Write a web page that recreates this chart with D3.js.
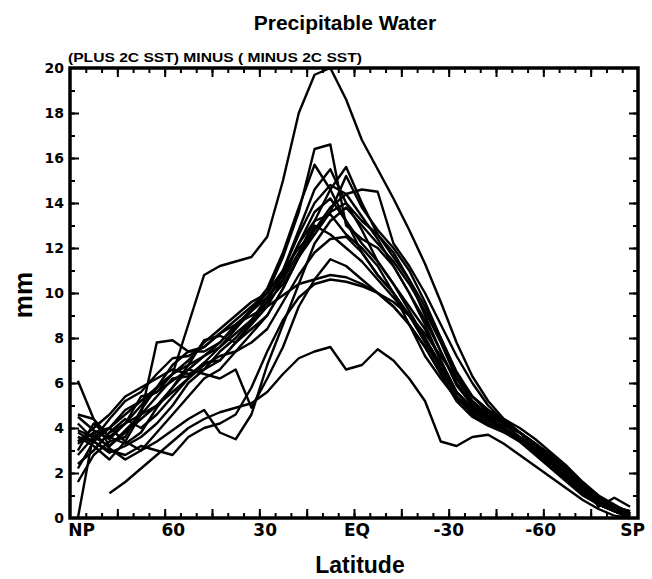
<!DOCTYPE html>
<html>
<head>
<meta charset="utf-8">
<script src="https://cdn.jsdelivr.net/npm/d3@7/dist/d3.min.js"></script>
<style>
	body { margin: 0; background: #fff; }
	svg { display: block; }
	.frame { fill: none; stroke: #000; stroke-width: 3.5; }
	.ticks path.domain { display: none; }
	.ticks line { stroke: #000; stroke-width: 2; }
	.labels path.domain { display: none; }
	.labels line { display: none; }
	.series { fill: none; stroke: #000; stroke-width: 2.4; stroke-linejoin: round; }
	text { font-weight: bold; fill: #000; }
</style>
</head>
<body>
<svg id="chart" width="652" height="579"></svg>
<script>
// latitude of each grid point, north pole to south pole
const lats = [87.5, 82.5, 77.5, 72.5, 67.5, 62.5, 57.5, 52.5, 47.5, 42.5, 37.5, 32.5,
	27.5, 22.5, 17.5, 12.5, 7.5, 2.5, -2.5, -7.5, -12.5, -17.5, -22.5, -27.5,
	-32.5, -37.5, -42.5, -47.5, -52.5, -57.5, -62.5, -67.5, -72.5, -77.5, -82.5, -87.5]

const latTicks = [90, 60, 30, 0, -30, -60, -90]
const latLabels = ['NP', '60', '30', 'EQ', '-30', '-60', 'SP']
const mmTicks = [0, 2, 4, 6, 8, 10, 12, 14, 16, 18, 20]

// precipitable water difference (mm), one array per model
const modelA = [3.6, 3.4, 4.0, 4.6, 5.2, 5.8, 6.4, 8.6, 10.8, 11.2, 11.4, 11.6, 12.5, 15.0, 18.0, 19.7, 20.0, 18.6, 16.8, 15.5, 14.2, 12.8, 11.3, 9.6, 7.8, 6.3, 5.2, 4.4, 3.8, 3.2, 2.6, 2.0, 1.3, 0.7, 0.3, 0.1]
const modelB = [null, null, 1.1, 1.6, 2.2, 2.8, 3.4, 4.0, 4.4, 4.7, 4.9, 5.1, 5.6, 6.4, 7.1, 7.4, 7.6, 6.6, 6.8, 7.5, 7.0, 6.2, 5.2, 3.4, 3.2, 3.6, 3.7, 3.3, 2.8, 2.3, 1.8, 1.3, 0.8, 0.4, 0.1, 0.0]
const modelC = [2.8, 3.6, 3.2, 3.9, 4.6, 5.4, 6.2, 6.3, 6.9, 7.6, 8.4, 9.2, 10.0, 11.6, 13.6, 16.4, 16.6, 13.0, 12.4, 12.0, 11.2, 10.0, 8.6, 7.0, 5.6, 4.9, 4.4, 3.9, 3.4, 2.8, 2.2, 1.6, 1.0, 0.6, 0.3, 0.2]
const modelD = [4.5, 3.9, 3.5, 4.2, 5.4, 5.6, 6.1, 6.6, 7.2, 7.8, 8.5, 9.3, 10.2, 11.8, 13.8, 15.7, 14.6, 13.2, 12.2, 11.4, 10.4, 9.2, 8.0, 6.6, 5.4, 4.8, 4.4, 4.0, 3.5, 3.0, 2.4, 1.8, 1.2, 0.7, 0.4, 0.2]
const modelE = [3.0, 4.2, 3.6, 3.3, 3.8, 4.9, 5.8, 6.8, 7.9, 8.1, 7.8, 8.7, 9.6, 11.0, 12.8, 14.6, 15.5, 14.0, 13.2, 12.6, 11.8, 10.6, 9.0, 7.4, 5.9, 5.0, 4.5, 4.0, 3.5, 3.0, 2.4, 1.8, 1.2, 0.7, 0.4, 0.1]
const modelF = [3.3, 3.8, 3.1, 2.6, 3.0, 3.8, 4.6, 5.4, 6.2, 6.6, 7.4, 8.2, 9.0, 10.2, 11.6, 12.6, 13.6, 15.2, 13.8, 12.8, 12.0, 11.0, 9.6, 8.0, 6.4, 5.4, 4.7, 4.2, 3.6, 3.0, 2.4, 1.8, 1.1, 0.6, 0.3, 0.0]
const modelG = [4.2, 3.5, 4.4, 5.2, 5.6, 6.4, 7.1, 7.2, 7.6, 8.2, 8.8, 9.4, 10.0, 11.0, 12.0, 12.8, 13.8, 14.4, 14.6, 14.5, 12.2, 11.2, 10.0, 8.6, 7.2, 6.0, 5.0, 4.3, 3.8, 3.2, 2.6, 2.0, 1.4, 0.9, 0.5, 0.3]
const modelH = [2.4, 3.0, 3.8, 4.4, 4.0, 4.6, 5.4, 6.2, 6.9, 7.0, 7.8, 8.6, 9.4, 10.6, 12.2, 13.6, 14.2, 13.2, 11.8, 10.8, 10.0, 9.0, 8.0, 6.8, 5.6, 4.9, 4.4, 3.9, 3.4, 2.9, 2.3, 1.7, 1.1, 0.6, 0.3, 0.0]
const modelI = [3.8, 3.4, 2.9, 3.2, 3.6, 4.2, 5.0, 6.0, 6.6, 7.4, 8.0, 8.8, 9.6, 10.4, 11.6, 12.8, 13.6, 14.0, 12.8, 11.4, 10.4, 9.4, 8.4, 7.0, 5.6, 4.8, 4.4, 4.1, 3.8, 3.3, 2.8, 2.2, 1.5, 0.9, 0.5, 0.1]
const modelJ = [1.6, 2.8, 3.4, 3.6, 4.8, 5.8, 6.4, 6.8, 7.2, 7.6, 8.2, 8.8, 9.8, 10.8, 12.2, 13.2, 13.5, 12.6, 12.0, 11.2, 10.0, 8.6, 7.2, 6.2, 5.3, 4.8, 4.5, 4.2, 3.8, 3.3, 2.7, 2.0, 1.4, 0.9, 0.5, 0.2]
const modelK = [3.4, 4.0, 4.6, 5.4, 5.8, 6.2, 6.6, 6.4, 6.6, 7.0, 7.8, 8.4, 9.0, 10.2, 11.6, 13.0, 12.6, 12.0, 11.4, 10.6, 9.8, 9.0, 8.0, 6.8, 5.4, 4.6, 4.2, 3.9, 3.6, 3.2, 2.6, 2.0, 1.4, 0.8, 0.4, 0.2]
const modelL = [6.1, 4.4, 3.2, 3.8, 4.4, 5.0, 5.6, 6.2, 6.8, 7.2, 7.4, 7.8, 8.4, 9.6, 10.8, 11.8, 12.4, 12.5, 11.8, 10.8, 10.0, 9.0, 7.8, 6.6, 5.4, 4.7, 4.3, 4.0, 3.6, 3.1, 2.5, 1.9, 1.3, 0.8, 0.4, 0.1]
const modelM = [null, 3.0, 3.8, 4.2, 4.6, 5.0, 5.8, 6.6, 6.4, 6.2, 6.6, 4.9, 6.2, 7.6, 9.4, 10.6, 11.5, 11.2, 10.6, 10.0, 9.4, 8.6, 7.6, 6.4, 5.2, 4.5, 4.2, 3.9, 3.5, 3.1, 2.6, 2.0, 1.3, 0.7, 0.3, 0.0]
const modelN = [3.6, 3.2, 2.6, 3.4, 4.6, 7.8, 7.9, 7.4, 7.6, 8.2, 8.6, 9.0, 9.4, 9.9, 10.4, 10.6, 10.8, 10.7, 10.4, 10.0, 9.6, 9.0, 8.2, 7.2, 6.2, 5.4, 4.8, 4.3, 3.8, 3.2, 2.6, 2.0, 1.4, 0.9, 0.5, 0.3]
const modelO = [2.2, 3.4, 3.0, 2.8, 3.2, 3.0, 2.8, 3.6, 4.0, 4.2, 4.6, 5.8, 7.4, 8.8, 9.8, 10.4, 10.6, 10.5, 10.3, 10.0, 9.4, 8.6, 7.6, 6.4, 5.2, 4.5, 4.1, 3.8, 3.4, 2.9, 2.3, 1.7, 1.1, 0.6, 0.3, 0.1]
const modelP = [3.9, 3.6, 4.0, 3.4, 3.0, 3.4, 3.9, 4.4, 4.8, 3.8, 3.5, 4.6, 6.8, 8.6, 10.4, 12.2, 13.2, 13.8, 13.0, 12.2, 11.4, 10.4, 9.2, 7.8, 6.2, 5.2, 4.6, 4.2, 3.8, 3.3, 2.7, 2.1, 1.5, 0.9, 0.5, 0.2]
const modelQ = [4.6, 4.4, 3.6, 4.2, 5.0, 5.8, 6.8, 7.4, 7.4, 7.8, 8.6, 9.2, 9.8, 10.6, 11.8, 13.2, 14.6, 15.6, 14.0, 12.6, 11.6, 10.6, 9.4, 8.0, 6.5, 5.4, 4.8, 4.4, 4.0, 3.5, 2.9, 2.3, 1.6, 1.0, 0.6, 0.2]
const modelR = [0.0, 3.8, 4.0, 4.8, 5.2, 5.6, 6.4, 7.0, 7.8, 8.4, 9.0, 9.6, 10.0, 11.0, 12.6, 14.0, 14.8, 14.4, 13.4, 12.4, 11.2, 10.0, 8.8, 7.4, 6.0, 5.1, 4.6, 4.2, 3.8, 3.3, 2.7, 2.1, 1.5, 0.5, 0.9, 0.5]

const models = [modelA, modelB, modelC, modelD, modelE, modelF, modelG, modelH, modelI,
	modelJ, modelK, modelL, modelM, modelN, modelO, modelP, modelQ, modelR]

const frame = { left: 70, right: 638, top: 68, bottom: 518 }

const svg = d3.select('#chart')

const x = d3.scaleLinear().domain([90, -90]).range([frame.left, frame.right])
const y = d3.scaleLinear().domain([0, 20]).range([frame.bottom, frame.top])
// the latitude labels sit a little inside the frame ends
const xLabel = d3.scaleLinear().domain([90, -90]).range([81, 632])

const minorLat = d3.range(85, -90, -5)
const majorLat = minorLat.filter((d) => d % 15 === 0)
const minorMm = d3.range(1, 20, 1)
const majorMm = minorMm.filter((d) => d % 2 === 0)

// tick marks on all four sides, pointing inward
const tickSets = [
	[d3.axisBottom(x).tickValues(minorLat).tickSize(-5), `translate(0,${frame.bottom})`],
	[d3.axisBottom(x).tickValues(majorLat).tickSize(-9), `translate(0,${frame.bottom})`],
	[d3.axisTop(x).tickValues(minorLat).tickSize(-5), `translate(0,${frame.top})`],
	[d3.axisTop(x).tickValues(majorLat).tickSize(-9), `translate(0,${frame.top})`],
	[d3.axisLeft(y).tickValues(minorMm).tickSize(-5), `translate(${frame.left},0)`],
	[d3.axisLeft(y).tickValues(majorMm).tickSize(-9), `translate(${frame.left},0)`],
	[d3.axisRight(y).tickValues(minorMm).tickSize(-5), `translate(${frame.right},0)`],
	[d3.axisRight(y).tickValues(majorMm).tickSize(-9), `translate(${frame.right},0)`],
]
tickSets.forEach(([axis, tr]) => {
	svg.append('g')
		.attr('class', 'ticks')
		.attr('transform', tr)
		.call(axis.tickFormat(''))
})

// data lines
const line = d3.line()
	.defined((d) => d != null)
	.x((d, i) => x(lats[i]))
	.y((d) => y(d))

svg.append('g')
	.selectAll('path')
	.data(models)
	.join('path')
	.attr('class', 'series')
	.attr('d', line)

svg.append('rect')
	.attr('class', 'frame')
	.attr('x', frame.left)
	.attr('y', frame.top)
	.attr('width', frame.right - frame.left)
	.attr('height', frame.bottom - frame.top)

// tick labels
svg.append('g')
	.attr('class', 'labels')
	.attr('transform', `translate(0,${frame.bottom})`)
	.call(d3.axisBottom(xLabel).tickValues(latTicks).tickSize(0).tickPadding(6)
		.tickFormat((d, i) => latLabels[i]))
	.selectAll('text')
	.attr('font-family', 'DejaVu Sans')
	.attr('font-size', 17)

svg.append('g')
	.attr('class', 'labels')
	.attr('transform', `translate(${frame.left},0)`)
	.call(d3.axisLeft(y).tickValues(mmTicks).tickSize(0).tickPadding(6))
	.selectAll('text')
	.attr('font-family', 'DejaVu Sans')
	.attr('font-size', 14)

// titles
svg.append('text')
	.attr('x', 345)
	.attr('y', 30)
	.attr('text-anchor', 'middle')
	.attr('font-family', 'Liberation Sans')
	.attr('font-size', 21)
	.text('Precipitable Water')

svg.append('text')
	.attr('x', 68)
	.attr('y', 62)
	.attr('font-family', 'Liberation Sans')
	.attr('font-size', 13)
	.attr('textLength', 294)
	.attr('lengthAdjust', 'spacingAndGlyphs')
	.text('(PLUS 2C SST) MINUS ( MINUS 2C SST)')

svg.append('text')
	.attr('x', 360)
	.attr('y', 573)
	.attr('text-anchor', 'middle')
	.attr('font-family', 'Liberation Sans')
	.attr('font-size', 23)
	.text('Latitude')

svg.append('text')
	.attr('transform', 'translate(32,295) rotate(-90)')
	.attr('text-anchor', 'middle')
	.attr('font-family', 'Liberation Sans')
	.attr('font-size', 26)
	.text('mm')
</script>
</body>
</html>
